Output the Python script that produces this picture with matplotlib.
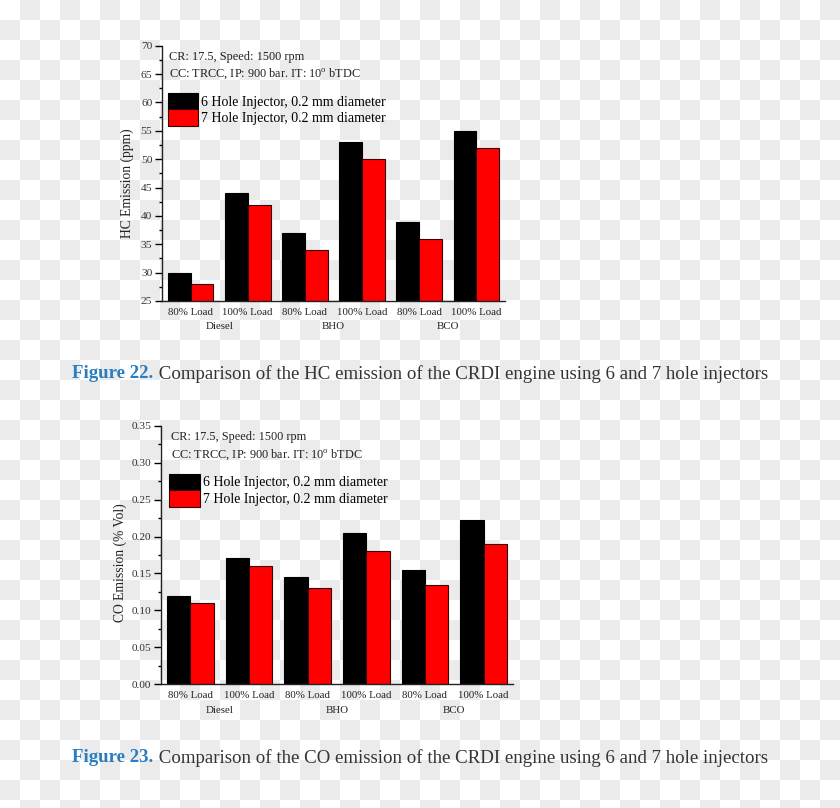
import matplotlib.pyplot as plt
import numpy as np
from matplotlib.colors import ListedColormap
from matplotlib.ticker import MultipleLocator, FormatStrFormatter

# ---- data ----
loads = ['80% Load', '100% Load', '80% Load', '100% Load', '80% Load', '100% Load']
fuels = ['Diesel', 'BHO', 'BCO']
series_names = ['6 Hole Injector, 0.2 mm diameter', '7 Hole Injector, 0.2 mm diameter']

hc_6hole = [30, 44, 37, 53, 39, 55]
hc_7hole = [28, 42, 34, 50, 36, 52]

co_6hole = [0.120, 0.171, 0.145, 0.205, 0.155, 0.223]
co_7hole = [0.110, 0.160, 0.130, 0.180, 0.135, 0.190]

note_lines = ['CR: 17.5, Speed: 1500 rpm', 'CC: TRCC, IP: 900 bar. IT: 10$^{\\rm o}$ bTDC']
captions = [('Figure 22.', ' Comparison of the HC emission of the CRDI engine using 6 and 7 hole injectors'),
            ('Figure 23.', ' Comparison of the CO emission of the CRDI engine using 6 and 7 hole injectors')]

W, H = 840, 808
plt.rcParams['font.family'] = ['Liberation Serif', 'DejaVu Serif']
plt.rcParams['mathtext.fontset'] = 'custom'
plt.rcParams['mathtext.rm'] = 'Liberation Serif'

fig = plt.figure(figsize=(W / 100, H / 100), dpi=100)

# checkerboard "transparent" background, 20 px squares
bg = fig.add_axes([0, 0, 1, 1], zorder=-10)
ny, nx = 41, 42
ii, jj = np.indices((ny, nx))
bg.imshow((ii + jj) % 2, cmap=ListedColormap(['#ffffff', '#ebebeb']),
          extent=(0, nx * 20, H - ny * 20, H), origin='upper', interpolation='nearest')
bg.set_xlim(0, W)
bg.set_ylim(0, H)
bg.axis('off')


def px_rect(left, top, right, bottom):
    return [left / W, 1 - bottom / H, (right - left) / W, (bottom - top) / H]


def draw_panel(rect, s6, s7, ylim, major, minor, fmt, ylabel, label_xy, note_x):
    ax = fig.add_axes(rect)
    ax.patch.set_alpha(0)
    x = np.arange(len(loads))
    w = 0.4
    ax.bar(x - w / 2, s6, w, color='black', edgecolor='black', linewidth=0.8,
           label=series_names[0])
    ax.bar(x + w / 2, s7, w, color='#ff0000', edgecolor='#3a0000', linewidth=0.8,
           label=series_names[1])
    ax.set_xlim(-0.5, len(loads) - 0.5)
    ax.set_ylim(*ylim)
    ax.yaxis.set_major_locator(MultipleLocator(major))
    ax.yaxis.set_minor_locator(MultipleLocator(minor))
    ax.yaxis.set_major_formatter(FormatStrFormatter(fmt))
    for s in ('top', 'right'):
        ax.spines[s].set_visible(False)
    for s in ('left', 'bottom'):
        ax.spines[s].set_linewidth(1.0)
        ax.spines[s].set_color('#222222')
    ax.set_xticks(x)
    ax.set_xticklabels(loads, fontsize=7.8, color='#222222')
    ax.tick_params(axis='x', length=0, pad=5)
    ax.tick_params(axis='y', which='major', direction='out', length=5, width=1,
                   labelsize=8.2, labelcolor='#333333', pad=2)
    ax.tick_params(axis='y', which='minor', direction='out', length=2.5, width=1)
    ax.set_ylabel(ylabel, fontsize=9.8, color='#222222')
    ax.yaxis.set_label_coords(*label_xy)
    for k, fuel in enumerate(fuels):
        ax.text(2 * k + 0.5, -0.1, fuel, transform=ax.get_xaxis_transform(),
                ha='center', va='center', fontsize=7.8, color='#222222')
    ax.text(note_x, 0.956, note_lines[0], transform=ax.transAxes, ha='left', va='center',
            fontsize=8.8, color='#222222')
    ax.text(note_x, 0.889, note_lines[1], transform=ax.transAxes, ha='left', va='center',
            fontsize=8.8, color='#222222')
    ax.legend(loc='upper left', bbox_to_anchor=(note_x - 0.003, 0.815), frameon=False,
              fontsize=10, handlelength=2.2, handleheight=1.45, labelspacing=0.0,
              handletextpad=0.2, borderpad=0, borderaxespad=0)
    return ax


draw_panel(px_rect(162, 45.7, 505, 301), hc_6hole, hc_7hole, (25, 70), 5, 2.5, '%d',
           'HC Emission (ppm)', (-0.082, 0.462), 0.02)
draw_panel(px_rect(161, 425.7, 513, 684.3), co_6hole, co_7hole, (0, 0.35), 0.05, 0.025,
           '%.2f', 'CO Emission (% Vol)', (-0.097, 0.469), 0.027)

for (fig_no, rest), ypx in zip(captions, [374, 758]):
    t1 = fig.text(72.5 / W, 1 - ypx / H, fig_no, ha='left', va='center', fontsize=13.6,
                  color='#2a7dc0', fontweight='bold')
    bg.annotate(rest, xy=(1, 0.5), xycoords=t1, ha='left', va='center',
                fontsize=13.6, color='#333333')

fig.savefig('out.png', dpi=100)
